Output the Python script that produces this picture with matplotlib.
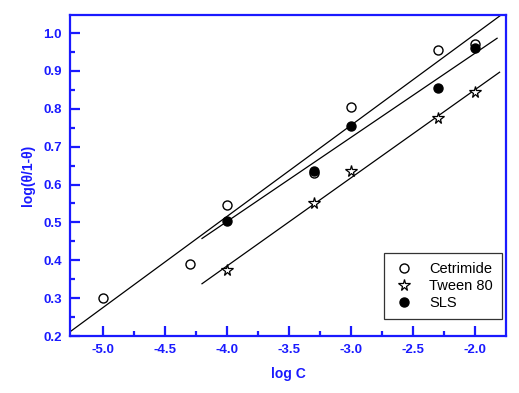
import numpy as np
import matplotlib
matplotlib.use('Agg')
import matplotlib.pyplot as plt

plt.rcParams['font.family'] = ['Liberation Sans', 'DejaVu Sans']

# data
cet_x = [-5.0, -4.3, -4.0, -3.3, -3.0, -2.3, -2.0]
cet_y = [0.30, 0.39, 0.545, 0.63, 0.805, 0.955, 0.97]
tween_x = [-4.0, -3.3, -3.0, -2.3, -2.0]
tween_y = [0.375, 0.55, 0.635, 0.775, 0.845]
sls_x = [-4.0, -3.3, -3.0, -2.3, -2.0]
sls_y = [0.505, 0.635, 0.755, 0.855, 0.96]

blue = '#1a1aff'

fig = plt.figure(figsize=(5.19, 3.93), dpi=100)
ax = fig.add_axes([0.135, 0.145, 0.84, 0.817])

# linear fits
for xs, ys, x0, x1 in [(cet_x, cet_y, -5.3, -1.7),
                       (sls_x, sls_y, -4.2, -1.82),
                       (tween_x, tween_y, -4.2, -1.8)]:
    k, b = np.polyfit(xs, ys, 1)
    xx = np.array([x0, x1])
    ax.plot(xx, k * xx + b, color='black', lw=0.9, zorder=1)

ax.plot(cet_x, cet_y, 'o', ms=6.5, mfc='white', mec='black', mew=1.0,
        ls='none', label='Cetrimide', zorder=3)
ax.plot(tween_x, tween_y, '*', ms=8.5, mfc='white', mec='black', mew=0.9,
        ls='none', label='Tween 80', zorder=3)
ax.plot(sls_x, sls_y, 'o', ms=6.5, mfc='black', mec='black',
        ls='none', label='SLS', zorder=3)

ax.set_xlim(-5.264, -1.748)
ax.set_ylim(0.2, 1.048)
ax.set_xticks(np.arange(-5.0, -1.9, 0.5))
ax.set_xticks(np.arange(-4.75, -1.9, 0.5), minor=True)
ax.set_yticks(np.arange(0.2, 1.01, 0.1))
ax.set_yticks(np.arange(0.25, 1.01, 0.1), minor=True)
ax.xaxis.set_major_formatter(plt.FormatStrFormatter('%.1f'))
ax.yaxis.set_major_formatter(plt.FormatStrFormatter('%.1f'))

for s in ax.spines.values():
    s.set_color(blue)
    s.set_linewidth(1.6)
ax.tick_params(which='both', direction='in', colors=blue, width=1.6,
               top=False, right=False)
ax.tick_params(which='major', length=7, labelsize=9.5, pad=6)
ax.tick_params(which='minor', length=3.5)
for lab in ax.get_xticklabels() + ax.get_yticklabels():
    lab.set_fontweight('bold')
    lab.set_color(blue)

ax.set_xlabel('log C', color=blue, fontweight='bold', fontsize=10, labelpad=8)
ax.set_ylabel('log(θ/1-θ)', color=blue, fontweight='bold', fontsize=10, labelpad=6)

leg = ax.legend(loc='lower right', bbox_to_anchor=(0.997, 0.045), frameon=True,
                fancybox=False, edgecolor='black', fontsize=10.5,
                handletextpad=1.0, borderpad=0.6, labelspacing=0.2,
                handlelength=1.5, borderaxespad=0.2)
leg.get_frame().set_linewidth(0.9)

fig.savefig('out.png', dpi=100)
